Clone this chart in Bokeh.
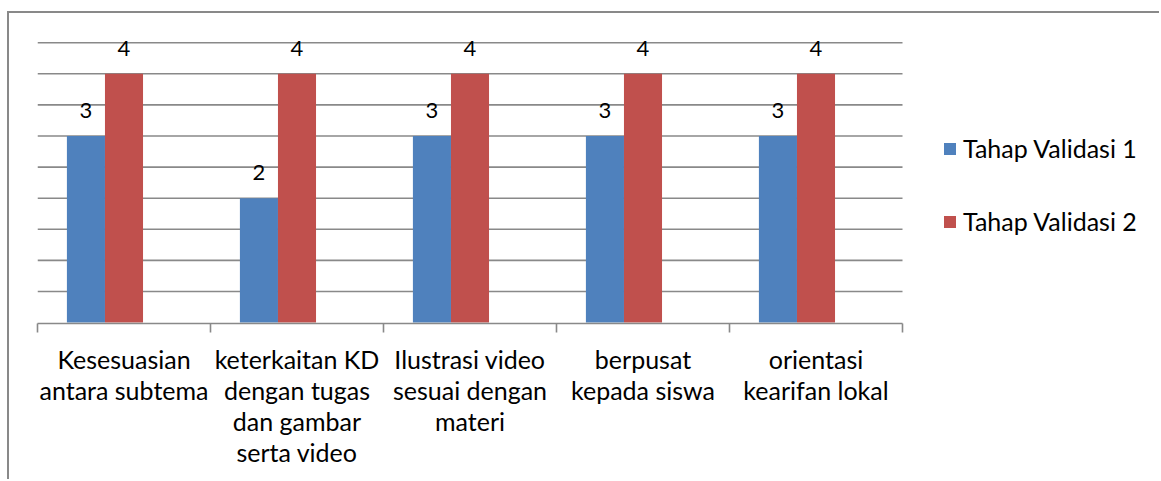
from bokeh.plotting import figure
from bokeh.models import (Range1d, FixedTicker, Legend, LegendItem, ColumnDataSource)
from bokeh.embed import file_html
from bokeh.resources import INLINE
from bokeh.core.properties import value

categories = ["Kesesuasian\nantara subtema",
              "keterkaitan KD\ndengan tugas\ndan gambar\nserta video",
              "Ilustrasi video\nsesuai dengan\nmateri",
              "berpusat\nkepada siswa",
              "orientasi\nkearifan lokal"]
series_names = ["Tahap Validasi 1", "Tahap Validasi 2"]
validasi1 = [3, 2, 3, 3, 3]
validasi2 = [4, 4, 4, 4, 4]
colors = ["#4F81BD", "#C0504D"]
grid_ticks = [0.5, 1.0, 1.5, 2.0, 2.5, 3.0, 3.5, 4.0, 4.5]

FONT = "Lato"
GRAY = "#898989"
BAR_W = 0.22
offsets = [-0.22, 0.0]
N = len(categories)
X_END = N * 1124 / 865.0  # extra room on the right of the plot area for the legend

centers = [i + 0.5 for i in range(N)]

p = figure(width=1152, height=468, output_backend="svg", toolbar_location=None,
           x_range=Range1d(0, X_END), y_range=Range1d(-0.015, 4.6),
           min_border_left=28, min_border_right=0, min_border_top=23,
           min_border_bottom=158)
p.outline_line_color = None
p.background_fill_color = "white"
p.border_fill_color = "white"
p.styles = {"border-left": "2px solid #898989", "border-top": "2px solid #898989",
            "margin-left": "7px", "margin-top": "11px"}

p.xgrid.visible = False
p.ygrid.visible = False
p.yaxis.visible = False

# horizontal gridlines over the category area only
p.segment(x0=[0] * len(grid_ticks), x1=[N] * len(grid_ticks), y0=grid_ticks, y1=grid_ticks,
          line_color=GRAY, line_width=1.6)

ax = p.xaxis[0]
ax.bounds = (0, N)
ax.ticker = FixedTicker(ticks=centers, minor_ticks=list(range(N + 1)))
ax.major_label_overrides = {c: lab for c, lab in zip(centers, categories)}
ax.major_tick_line_color = None
ax.major_tick_out = 0
ax.major_tick_in = 0
ax.minor_tick_line_color = GRAY
ax.minor_tick_line_width = 1.6
ax.minor_tick_out = 9
ax.minor_tick_in = 0
ax.axis_line_color = GRAY
ax.axis_line_width = 1.6
ax.major_label_text_font = FONT
ax.major_label_text_font_size = "25px"
ax.major_label_text_line_height = 1.04
ax.major_label_text_color = "black"
ax.major_label_standoff = 11

renderers = []
for vals, off, col in zip([validasi1, validasi2], offsets, colors):
    src = ColumnDataSource(dict(x=[c + off for c in centers], top=vals,
                                lab=[str(v) for v in vals]))
    r = p.vbar(x="x", top="top", width=BAR_W, bottom=0, source=src,
               fill_color=col, line_color=None)
    renderers.append(r)
    p.text(x="x", y="top", text="lab", source=src, text_align="center",
           text_baseline="bottom", y_offset=-18, text_font=value(FONT),
           text_font_size="22px", text_color="black")

legend = Legend(items=[LegendItem(label=n, renderers=[r]) for n, r in zip(series_names, renderers)],
                location=(905, 87), orientation="vertical")
legend.border_line_color = None
legend.background_fill_alpha = 0
legend.margin = 0
legend.padding = 10
legend.glyph_width = 15
legend.glyph_height = 15
legend.label_standoff = 6
legend.spacing = 43
legend.label_text_font = FONT
legend.label_text_font_size = "25px"
legend.label_text_color = "black"
p.add_layout(legend)

open("out.html", "w").write(file_html(p, INLINE))
